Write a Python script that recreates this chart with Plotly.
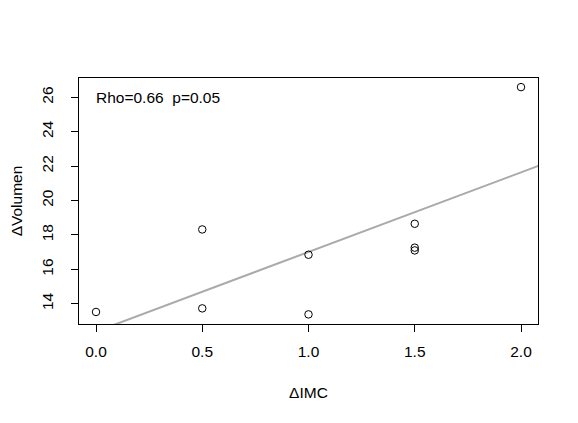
import numpy as np
import plotly.graph_objects as go

delta_imc = [0.0, 0.5, 0.5, 1.0, 1.0, 1.5, 1.5, 1.5, 2.0]
delta_vol = [13.52, 13.73, 18.32, 16.85, 13.38, 18.65, 17.26, 17.10, 26.6]
x_ticks = [0.0, 0.5, 1.0, 1.5, 2.0]
x_tick_labels = ["0.0", "0.5", "1.0", "1.5", "2.0"]
y_ticks = [14, 16, 18, 20, 22, 24, 26]
annotation_text = "Rho=0.66\u00a0 p=0.05"

xr = [-0.08, 2.08]
yr = [12.82, 27.13]

slope, intercept = np.polyfit(delta_imc, delta_vol, 1)
lx = np.array([xr[0] - 0.2, xr[1] + 0.2])
ly = intercept + slope * lx

font = dict(family="Liberation Sans, Arial, sans-serif", size=15.5, color="black")

fig = go.Figure()
fig.add_trace(go.Scatter(x=lx, y=ly, mode="lines",
                         line=dict(color="#aaaaaa", width=2), hoverinfo="skip"))
fig.add_trace(go.Scatter(x=delta_imc, y=delta_vol, mode="markers",
                         marker=dict(symbol="circle-open", size=7.5, color="black",
                                     line=dict(width=1, color="black"))))

fig.add_annotation(x=0.0, y=26.0, xref="x", yref="y", text=annotation_text,
                   showarrow=False, xanchor="left", yanchor="middle", font=font,
                   xshift=-2)

fig.update_layout(
    width=570, height=415,
    margin=dict(l=71, r=40, t=70, b=99, autoexpand=False),
    paper_bgcolor="white", plot_bgcolor="white",
    showlegend=False, font=font,
    xaxis=dict(range=xr, tickvals=x_ticks, ticktext=x_tick_labels,
               showline=True, mirror=True, linecolor="black", linewidth=1,
               ticks="outside", ticklen=7, tickcolor="black", tickwidth=1,
               showgrid=False, zeroline=False, tickfont=font, automargin=False,
               ticklabelstandoff=6,
               title=dict(text="ΔIMC", font=font, standoff=28)),
    yaxis=dict(range=yr, tickvals=y_ticks,
               showline=True, mirror=True, linecolor="black", linewidth=1,
               ticks="outside", ticklen=7, tickcolor="black", tickwidth=1,
               showgrid=False, zeroline=False, tickfont=font, tickangle=-90,
               automargin=False, ticklabelstandoff=12,
               title=dict(text="ΔVolumen", font=font, standoff=17)),
)

fig.write_html("out.html")
